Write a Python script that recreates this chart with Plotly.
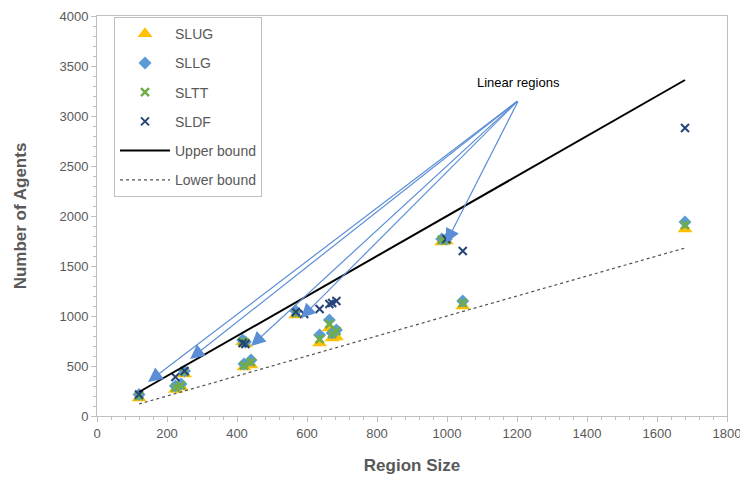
import plotly.graph_objects as go

# Data
region_size = [120, 224, 240, 250, 416, 424, 420, 440, 568, 592, 636, 664, 672, 684, 1045, 985, 998, 1680]
slug = [180, 265, 290, 420, 740, 720, 490, 510, 1010, None, 730, 880, 780, 790, 1100, 1740, 1750, 1870]
sllg = [215, 300, 320, 450, 760, 740, 520, 560, 1050, None, 810, 960, 830, 860, 1150, 1770, 1770, 1940]
sltt = [200, 285, 305, 440, 745, 730, 505, 540, 1030, None, 770, 920, 820, 850, 1130, 1760, 1760, 1910]
sldf = [215, 390, None, 450, 730, 720, None, None, 1040, 1020, 1070, 1120, 1130, 1150, 1650, None, 1770, 2880]

bound_x = [120, 1680]
upper_y = [240, 3360]
lower_y = [120, 1680]

arrow_tail = (1205, 3160)
arrow_heads_x = [146, 266, 440, 583, 997]
arrow_heads_y = [340, 570, 700, 980, 1730]

x_ticks = list(range(0, 1801, 200))
y_ticks = list(range(0, 4001, 500))

GRAY = "#595959"
FONT = "Liberation Sans"

fig = go.Figure()

def pts(vals):
    xs, ys = [], []
    for x, v in zip(region_size, vals):
        if v is not None:
            xs.append(x); ys.append(v)
    return xs, ys

x, y = pts(slug)
fig.add_trace(go.Scatter(x=x, y=y, mode="markers", name="SLUG", legendgroup="a",
                         marker=dict(symbol="triangle-up", size=13, color="#FFC000")))
x, y = pts(sllg)
fig.add_trace(go.Scatter(x=x, y=y, mode="markers", name="SLLG", legendgroup="b",
                         marker=dict(symbol="diamond", size=10, color="#5B9BD5")))
x, y = pts(sltt)
fig.add_trace(go.Scatter(x=x, y=y, mode="markers", name="SLTT", legendgroup="c",
                         marker=dict(symbol="x-thin", size=8, color="#70AD47",
                                     line=dict(width=2.5, color="#70AD47"))))
x, y = pts(sldf)
fig.add_trace(go.Scatter(x=x, y=y, mode="markers", name="SLDF", legendgroup="d",
                         marker=dict(symbol="x-thin", size=8, color="#264478",
                                     line=dict(width=2, color="#264478"))))
fig.add_trace(go.Scatter(x=bound_x, y=upper_y, mode="lines", name="Upper bound", legendgroup="e",
                         line=dict(color="black", width=2)))
fig.add_trace(go.Scatter(x=bound_x, y=lower_y, mode="lines", name="Lower bound", legendgroup="f",
                         line=dict(color="#505050", width=1.2, dash="3px,3px")))

for hx, hy in zip(arrow_heads_x, arrow_heads_y):
    fig.add_annotation(x=hx, y=hy, ax=arrow_tail[0], ay=arrow_tail[1],
                       xref="x", yref="y", axref="x", ayref="y", text="",
                       showarrow=True, arrowhead=2, arrowsize=2.4, arrowwidth=1.2,
                       arrowcolor="#5B8ED6")
fig.add_annotation(x=arrow_tail[0], y=arrow_tail[1], xref="x", yref="y",
                   text="Linear regions", showarrow=False, yanchor="bottom", yshift=8,
                   font=dict(family=FONT, size=13, color="black"))

fig.update_layout(
    width=748, height=481,
    margin=dict(l=89, r=29, t=8, b=73),
    paper_bgcolor="white", plot_bgcolor="white",
    font=dict(family=FONT, size=13, color=GRAY),
    showlegend=True,
    legend=dict(x=0.027, y=0.997, xanchor="left", yanchor="top",
                bgcolor="white", bordercolor="#BFBFBF", borderwidth=1,
                font=dict(family=FONT, size=14, color=GRAY),
                tracegroupgap=8, itemwidth=50),
    xaxis=dict(range=[0, 1800], tickvals=x_ticks, showgrid=False, zeroline=False,
               automargin=False,
               showline=True, linecolor="#BFBFBF", linewidth=1, mirror=True,
               ticks="outside", ticklen=5, tickcolor="#BFBFBF",
               minor=dict(dtick=40, ticks="outside", ticklen=3, tickcolor="#BFBFBF"),
               tickfont=dict(family=FONT, size=13, color=GRAY),
               title=dict(text="<b>Region Size</b>", font=dict(family=FONT, size=17, color=GRAY), standoff=19)),
    yaxis=dict(range=[0, 4000], tickvals=y_ticks, showgrid=False, zeroline=False,
               automargin=False,
               showline=True, linecolor="#BFBFBF", linewidth=1, mirror=True,
               ticks="outside", ticklen=5, tickcolor="#BFBFBF",
               minor=dict(dtick=100, ticks="outside", ticklen=3, tickcolor="#BFBFBF"),
               tickfont=dict(family=FONT, size=13, color=GRAY),
               title=dict(text="<b>Number of Agents</b>", font=dict(family=FONT, size=17, color=GRAY), standoff=28)),
)

fig.write_html("out.html")
